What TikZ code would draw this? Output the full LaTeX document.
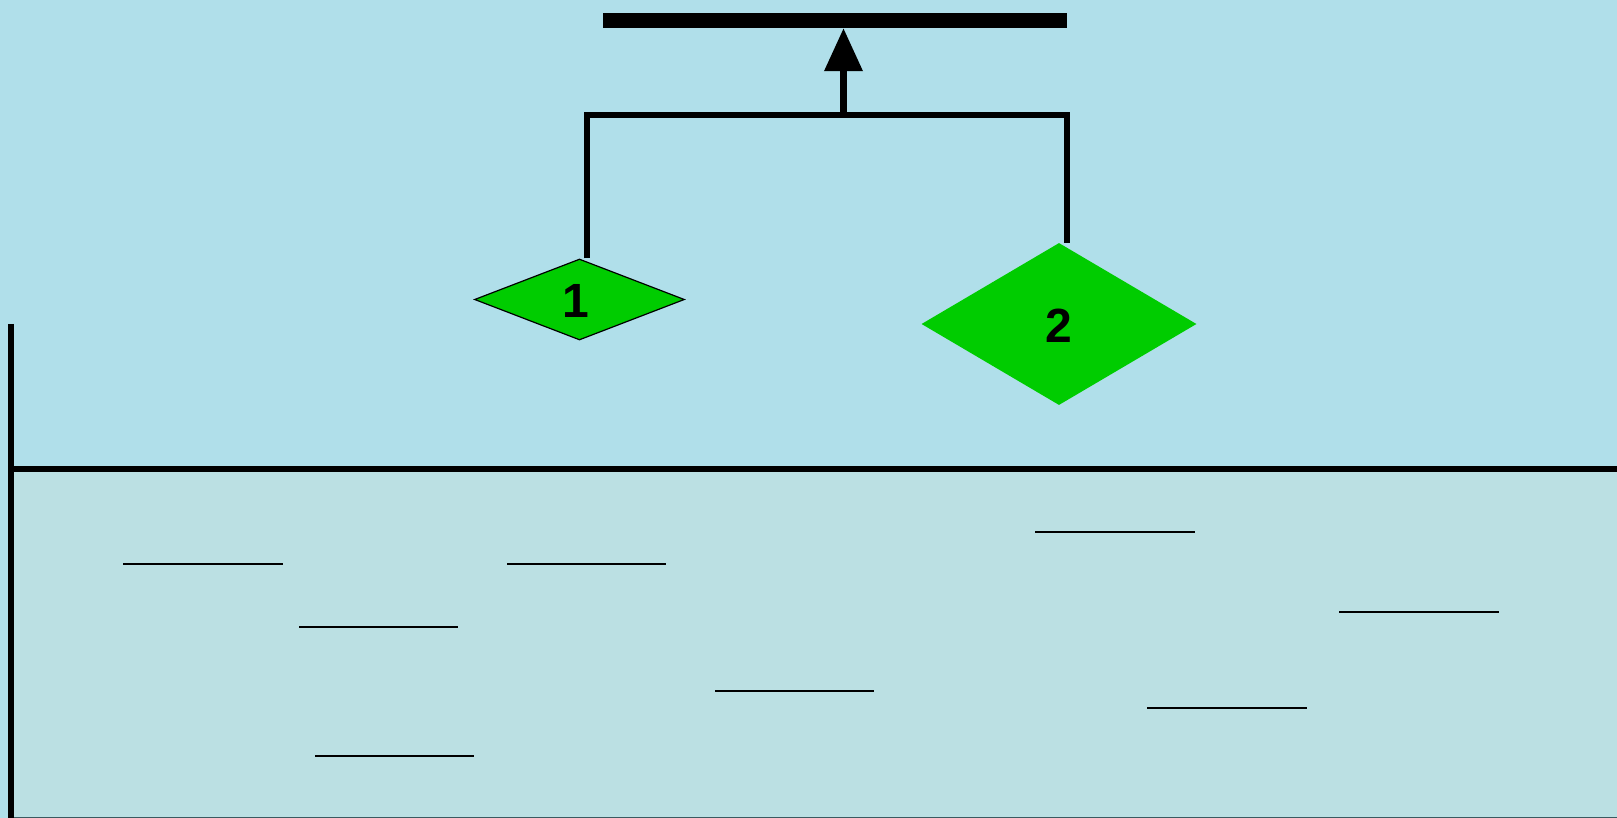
\documentclass[tikz,border=0pt]{standalone}
\usepackage{fontspec}
\setmainfont{Liberation Sans}
\usetikzlibrary{shapes.geometric,arrows.meta}
\definecolor{sky}{HTML}{B0DFEA}
\definecolor{water}{HTML}{BBE0E3}
\definecolor{edge}{HTML}{3A5A60}
\definecolor{leafgreen}{HTML}{00CC00}
\tikzset{
  px/.style={x=1pt,y=-1pt},
  heavy/.style={line width=6pt},
  wave/.style={line width=2.2pt},
  float/.style={diamond,fill=leafgreen,inner sep=0pt},
  digit/.style={font=\bfseries\fontsize{48}{48}\selectfont},
  beam/.style={rectangle,fill=black,inner sep=0pt,minimum width=464pt,minimum height=15pt}
}
\begin{document}
\begin{tikzpicture}[px]
\useasboundingbox (0,0) rectangle (1617,818);
% background
\fill[sky] (0,0) rectangle (1617,818);
% water body
\filldraw[fill=water,draw=edge,line width=1pt] (11,468.5) rectangle (1617,817.5);
% surface and wall
\draw[heavy] (8,468.5) -- (1617,468.5);
\draw[heavy] (11,324) -- (11,818);
% waves
\draw[wave] (123,564) -- (283,564);
\draw[wave] (507,564) -- (666,564);
\draw[wave] (1035,532) -- (1195,532);
\draw[wave] (299,627) -- (458,627);
\draw[wave] (1339,612) -- (1499,612);
\draw[wave] (715,691) -- (874,691);
\draw[wave] (1147,708) -- (1307,708);
\draw[wave] (315,756) -- (474,756);
% beam
\node[beam] (bar) at (835,20.5) {};
% floats
\node[float,draw=black,line width=1.2pt,minimum width=210pt,minimum height=81pt] (d1) at (579.5,299.5) {};
\node[digit] (l1) at (576,300.5) {1};
\node[float,minimum width=275pt,minimum height=162pt] (d2) at (1059,324) {};
\node[digit] (l2) at (1058.5,326) {2};
% bracket
\coordinate (j) at (843.5,115.5);
\draw[heavy,line join=miter] ([xshift=7.5pt]d1.north) |- (j) -| ([xshift=7.5pt]d2.north);
\draw[line width=7pt,-{Triangle[length=43pt,width=37pt]}] (j) -- (j |- bar.south);
\end{tikzpicture}
\end{document}
